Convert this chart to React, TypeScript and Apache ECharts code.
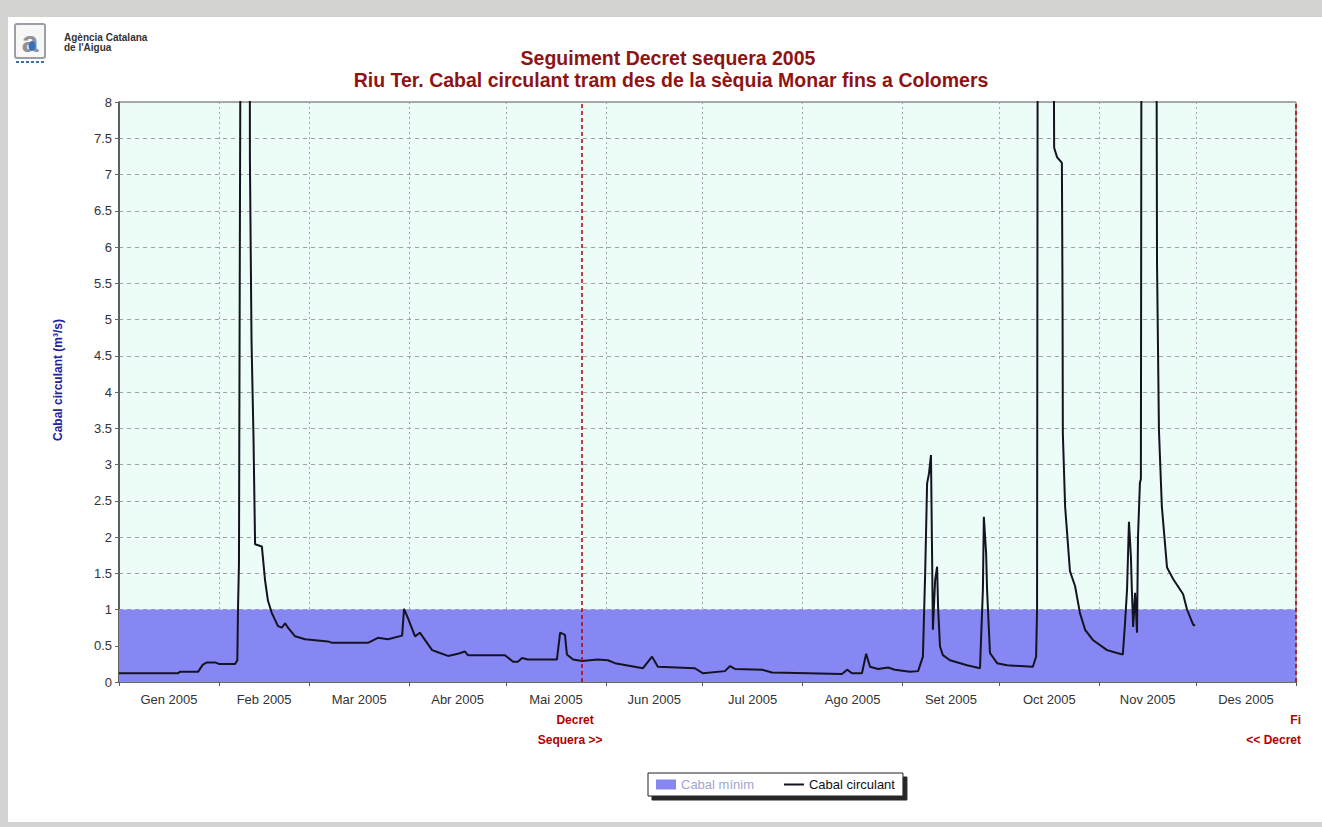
import React, { useEffect, useRef } from "react";
import * as echarts from "echarts";

// ---- Data ----
const MONTH_LABELS = [
  "Gen 2005", "Feb 2005", "Mar 2005", "Abr 2005", "Mai 2005", "Jun 2005",
  "Jul 2005", "Ago 2005", "Set 2005", "Oct 2005", "Nov 2005", "Des 2005",
];
const MONTH_DAYS = [31, 28, 31, 30, 31, 30, 31, 31, 30, 31, 30, 31];
const Y_TICKS_MIN = 0;
const Y_TICKS_MAX = 8;
const Y_TICKS_STEP = 0.5;
const CABAL_MINIM = 1; // m3/s
const DECRET_DAY = 143.6; // day of year (0 = 1 Jan)
const FI_DECRET_DAY = 365;

// day of year (0 = 1 Jan 2005) of each reading
const FLOW_DAYS = [
  0, 18.3, 18.9, 24.5, 26.0, 27.3, 29.8, 31.0, 36.0, 36.7, 36.9, 37.2, 37.5, 38.0, 39.2, 40.5,
  40.6, 41.1, 41.7, 42.2, 44.3, 45.3, 46.2, 47.4, 49.3, 50.5, 51.5, 52.4, 54.6, 57.7, 64.8, 66.1,
  77.2, 80.3, 83.4, 87.8, 88.4, 89.6, 91.8, 93.3, 97.1, 98.9, 102.0, 105.1, 107.3, 108.2, 119.7,
  122.2, 123.7, 125.0, 126.8, 135.8, 136.8, 138.3, 138.9, 140.8, 143.6, 148.5, 151.6, 153.8,
  162.5, 165.3, 167.1, 178.6, 181.1, 187.9, 189.5, 191.0, 199.4, 202.5, 213.7, 224.2, 225.8,
  227.3, 230.4, 231.7, 232.9, 235.4, 238.5, 240.6, 245.3, 247.8, 249.3, 250.0, 250.6, 251.2,
  251.8, 252.1, 252.4, 253.1, 253.7, 254.0, 254.6, 255.5, 257.7, 263.0, 267.0, 267.9, 268.2,
  268.9, 269.2, 270.1, 272.3, 275.4, 283.4, 284.4, 284.7, 285.0, 287.3, 289.6, 290.0, 290.9,
  292.4, 292.6, 292.7, 293.4, 294.9, 296.5, 298.0, 299.6, 302.0, 306.4, 309.5, 311.3, 312.0,
  312.6, 313.2, 313.8, 314.1, 314.5, 315.1, 315.7, 316.0, 316.6, 316.9, 317.2, 319.4, 321.6,
  321.9, 322.5, 323.4, 325.0, 326.9, 330.0, 331.2, 333.1, 333.7,
];
// Cabal circulant (m3/s)
const FLOW_VALUES = [
  0.12, 0.12, 0.14, 0.14, 0.24, 0.27, 0.27, 0.25, 0.25, 0.3, 1.0, 1.63, 6.4, 14, 16, 12,
  7.2, 4.7, 3.4, 1.9, 1.87, 1.4, 1.12, 0.95, 0.77, 0.75, 0.81, 0.75, 0.63, 0.59, 0.56, 0.54,
  0.54, 0.61, 0.59, 0.64, 1.01, 0.88, 0.63, 0.68, 0.44, 0.41, 0.36, 0.39, 0.42, 0.37, 0.37,
  0.28, 0.28, 0.33, 0.31, 0.31, 0.68, 0.65, 0.38, 0.31, 0.29, 0.31, 0.3, 0.26,
  0.19, 0.35, 0.21, 0.19, 0.12, 0.15, 0.22, 0.18, 0.17, 0.13, 0.12, 0.11, 0.17,
  0.12, 0.12, 0.39, 0.21, 0.18, 0.2, 0.17, 0.14, 0.15, 0.35, 1.5, 2.74, 2.88,
  3.13, 1.92, 0.72, 1.41, 1.59, 1.04, 0.49, 0.37, 0.3, 0.23, 0.19, 1.27, 2.28,
  1.78, 1.27, 0.4, 0.26, 0.23, 0.21, 0.35, 1.0, 14, 18, 12, 7.37, 7.24,
  7.16, 5.26, 3.42, 2.42, 1.53, 1.32, 0.95, 0.72, 0.58, 0.44, 0.4, 0.38, 0.83,
  1.27, 2.21, 1.73, 1.27, 0.76, 1.23, 0.68, 2.0, 2.75, 2.8, 14, 17, 12,
  5.79, 3.47, 2.42, 1.58, 1.42, 1.21, 1.0, 0.79, 0.78,
];

const RED = "#b00000";
const TITLE_RED = "#8e1414";
const BAND = "#8787f4";
const LINE = "#141420";

export default function App() {
  const ref = useRef<HTMLDivElement>(null);

  useEffect(() => {
    if (!ref.current) return;
    const chart = echarts.init(ref.current, null, { renderer: "svg" });

    const monthStarts: number[] = [];
    let acc = 0;
    MONTH_DAYS.forEach((d) => {
      monthStarts.push(acc);
      acc += d;
    });
    const monthMids = monthStarts.map((s, i) => s + MONTH_DAYS[i] / 2);
    const yearEnd = acc;

    const flowData = FLOW_DAYS.map((d, i) => [d, FLOW_VALUES[i]]);
    const minimData = [
      [0, CABAL_MINIM],
      [yearEnd, CABAL_MINIM],
    ];

    const font = "Arial, 'Liberation Sans', sans-serif";

    chart.setOption({
      animation: false,
      backgroundColor: "#d2d2d0",
      grid: {
        left: 119,
        right: 26,
        top: 102,
        bottom: 145,
        show: true,
        backgroundColor: "#ecfcf7",
        borderColor: "#5a5a5a",
        borderWidth: 1,
      },
      legend: {
        left: 648,
        top: 773,
        orient: "horizontal",
        itemWidth: 20,
        itemHeight: 10,
        itemGap: 30,
        padding: [5, 8, 5, 8],
        backgroundColor: "#ffffff",
        borderColor: "#222",
        borderWidth: 1,
        shadowColor: "rgba(0,0,0,0.85)",
        shadowOffsetX: 4,
        shadowOffsetY: 4,
        shadowBlur: 0,
        textStyle: { fontSize: 13, fontFamily: font, color: "#111" },
        data: [
          { name: "Cabal mínim", icon: "rect", textStyle: { color: "#a3a3cf" } },
          { name: "Cabal circulant", icon: "path://M0,0H20V2H0Z" },
        ],
      },
      xAxis: {
        type: "value",
        min: 0,
        max: yearEnd,
        axisLine: { show: true, onZero: false, lineStyle: { color: "#555", width: 1.5 } },
        axisTick: {
          show: true,
          customValues: monthStarts.concat([yearEnd]),
          length: 4,
          lineStyle: { color: "#555" },
        },
        axisLabel: {
          customValues: monthMids,
          formatter: (v: number) => {
            const i = monthMids.findIndex((m) => Math.abs(m - v) < 0.01);
            return i >= 0 ? MONTH_LABELS[i] : "";
          },
          color: "#333",
          fontSize: 13,
          fontFamily: font,
          margin: 11,
        },
        splitLine: {
          show: true,
          lineStyle: { color: "#a5a5a5", type: [2, 3], width: 1 },
        },
      },
      yAxis: {
        type: "value",
        min: Y_TICKS_MIN,
        max: Y_TICKS_MAX,
        interval: Y_TICKS_STEP,
        axisLine: { show: true, lineStyle: { color: "#444", width: 1.5 } },
        axisTick: { show: true, length: 4, lineStyle: { color: "#666" } },
        axisLabel: { color: "#333", fontSize: 13, fontFamily: font, margin: 7 },
        splitLine: { show: true, lineStyle: { color: "#a0a0a0", type: [4, 4], width: 1 } },
      },
      series: [
        {
          name: "Cabal mínim",
          type: "line",
          data: minimData,
          symbol: "none",
          lineStyle: { width: 0, color: BAND },
          itemStyle: { color: BAND },
          areaStyle: { color: BAND, opacity: 1 },
          silent: true,
          z: 2,
        },
        {
          name: "Cabal circulant",
          type: "line",
          data: flowData,
          symbol: "none",
          clip: true,
          lineStyle: { color: LINE, width: 2 },
          itemStyle: { color: LINE },
          z: 4,
          markLine: {
            silent: true,
            symbol: "none",
            label: { show: false },
            lineStyle: { color: RED, type: [4, 3], width: 1.5 },
            data: [{ xAxis: DECRET_DAY }, { xAxis: FI_DECRET_DAY }],
          },
        },
      ],
    });

    const xDec = chart.convertToPixel({ xAxisIndex: 0 }, DECRET_DAY) as number;
    const xFi = chart.convertToPixel({ xAxisIndex: 0 }, FI_DECRET_DAY) as number;
    const annot = { fill: RED, fontWeight: "bold", fontSize: 12, fontFamily: font };

    const dots = [0, 1, 2, 3, 4, 5].map((i) => ({
      type: "rect",
      shape: { x: 16 + i * 5, y: 61, width: 3, height: 2 },
      style: { fill: "#3d6fb8" },
    }));

    chart.setOption({
      graphic: [
        { type: "rect", shape: { x: 8, y: 17, width: 1314, height: 805 }, style: { fill: "#ffffff" }, z: -10 },
        // logo
        { type: "rect", shape: { x: 15, y: 24, width: 30, height: 34, r: 2 }, style: { fill: "#f7f7f7", stroke: "#9aa0a8", lineWidth: 2 } },
        { type: "text", x: 30, y: 41, style: { text: "a", fill: "#8d939c", font: `bold 30px ${font}`, textAlign: "center", textVerticalAlign: "middle" } },
        { type: "ellipse", shape: { cx: 32, cy: 46, rx: 3.5, ry: 5 }, style: { fill: "#3d6fb8" } },
        ...dots,
        { type: "text", x: 64, y: 32, style: { text: "Agència Catalana", fill: "#333", font: `bold 10px ${font}` } },
        { type: "text", x: 64, y: 42, style: { text: "de l'Aigua", fill: "#333", font: `bold 10px ${font}` } },
        // titles
        { type: "text", x: 668, y: 58, style: { text: "Seguiment Decret sequera 2005", fill: TITLE_RED, font: `bold 19.5px ${font}`, textAlign: "center", textVerticalAlign: "middle" } },
        { type: "text", x: 671, y: 80, style: { text: "Riu Ter. Cabal circulant tram des de la sèquia Monar fins a Colomers", fill: TITLE_RED, font: `bold 19.5px ${font}`, textAlign: "center", textVerticalAlign: "middle" } },
        // y-axis name
        { type: "text", x: 58, y: 380, rotation: Math.PI / 2, style: { text: "Cabal circulant (m³/s)", fill: "#2323a0", font: `bold 12px ${font}`, textAlign: "center", textVerticalAlign: "middle" } },
        // decree annotations
        { type: "text", x: xDec - 7, y: 720, style: { text: "Decret", textAlign: "center", textVerticalAlign: "middle", ...annot } },
        { type: "text", x: xDec - 12, y: 740, style: { text: "Sequera >>", textAlign: "center", textVerticalAlign: "middle", ...annot } },
        { type: "text", x: xFi + 5, y: 720, style: { text: "Fi", textAlign: "right", textVerticalAlign: "middle", ...annot } },
        { type: "text", x: xFi + 5, y: 740, style: { text: "<< Decret", textAlign: "right", textVerticalAlign: "middle", ...annot } },
      ],
    });

    return () => chart.dispose();
  }, []);

  return (
    <div
      ref={ref}
      style={{ position: "absolute", left: 0, top: 0, width: 1322, height: 827 }}
    />
  );
}
